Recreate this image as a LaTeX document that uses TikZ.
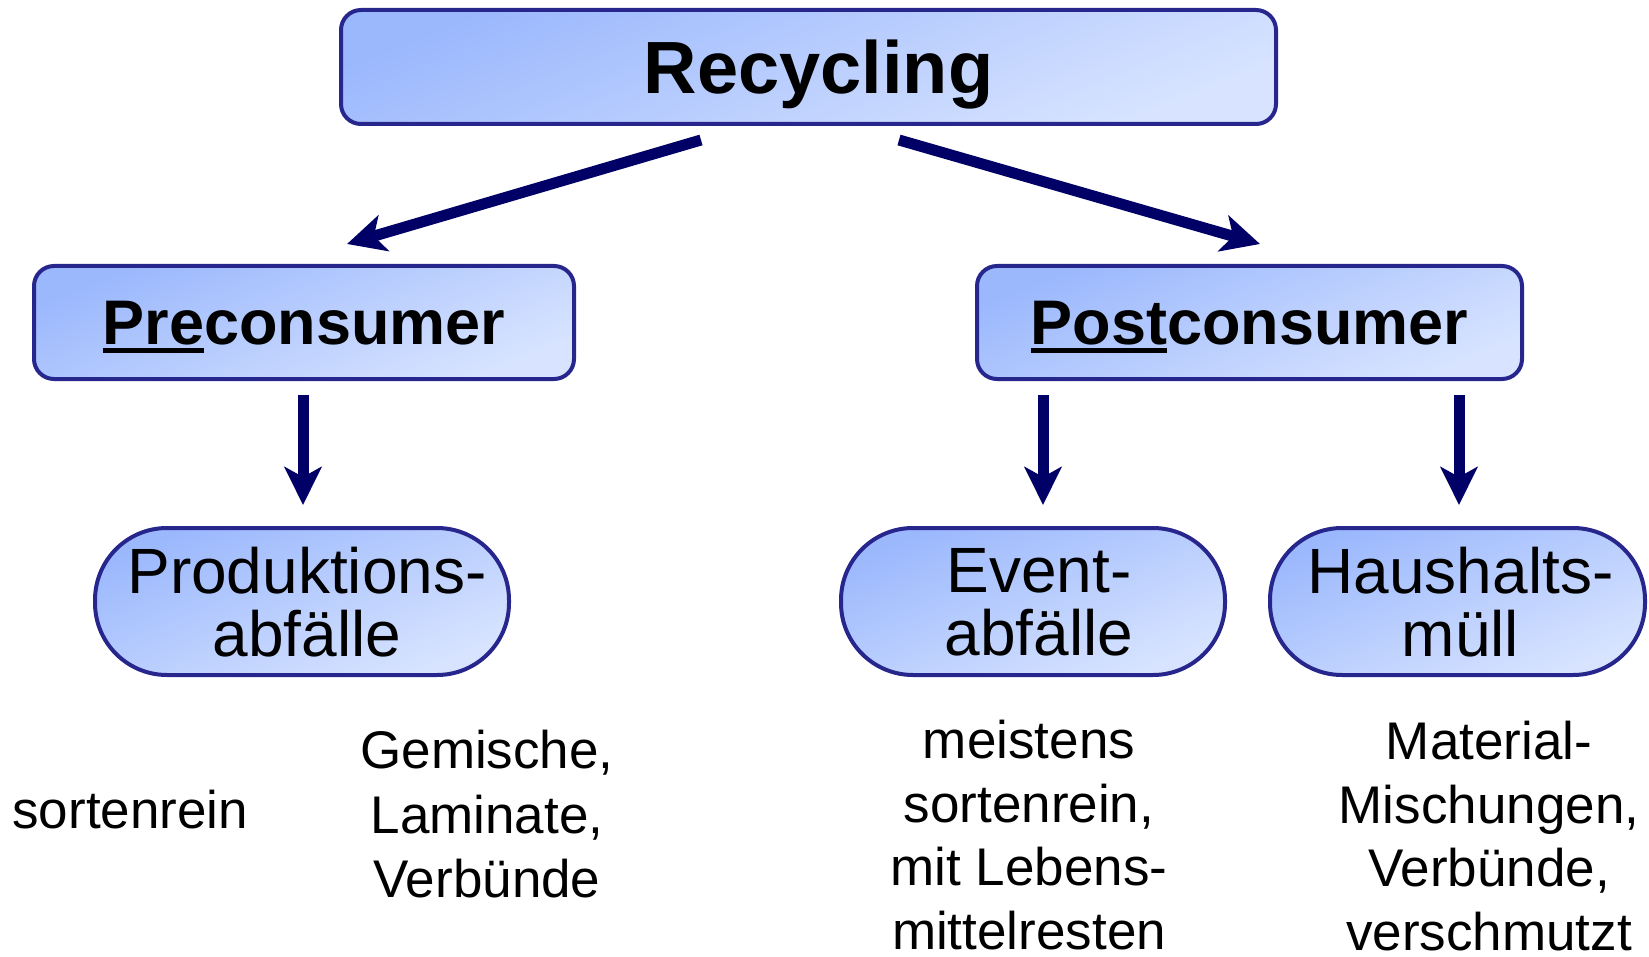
\documentclass[tikz,border=0pt]{standalone}
\usepackage{fontspec}
\setmainfont{Liberation Sans}
\usetikzlibrary{arrows.meta,calc}
\definecolor{bord}{RGB}{38,38,140}
\definecolor{fillA}{RGB}{155,184,253}
\definecolor{fillB}{RGB}{216,228,255}
\definecolor{arrcol}{RGB}{0,0,102}
\newcommand{\ulpart}[1]{\setbox0\hbox{#1}\rlap{\rule[-0.14em]{\wd0}{0.08em}}\box0}
\tikzset{
  gradfill/.style={draw=bord, line width=2pt, top color=fillA, bottom color=fillB, shading angle=22},
  catbox/.style={gradfill, rounded corners=10pt, inner sep=0pt, text depth=0pt, font=\bfseries},
  oval/.style={gradfill, rounded corners=36pt, inner sep=0pt, minimum height=73.5pt, align=center,
               text depth=0pt, font=\fontsize{32}{31.5}\selectfont},
  note/.style={inner sep=0pt, align=center, text depth=0pt, font=\fontsize{26.5}{31.75}\selectfont},
  arr/.style={draw=arrcol, line width=5.5pt, -{Stealth[length=19pt,width=18.5pt,inset=5pt]}}
}
\begin{document}
\begin{tikzpicture}[x=0.5pt,y=-0.5pt]
\useasboundingbox (0,0) rectangle (1649,957);

\node[catbox, minimum width=467.5pt, minimum height=57pt, font=\bfseries\fontsize{37}{40}\selectfont]
  (rec) at (808.5,67) {\hspace*{10pt}Recycling};
\node[catbox, minimum width=270pt, minimum height=56.5pt, font=\bfseries\fontsize{31.5}{34}\selectfont]
  (pre) at (304,322.5) {\ulpart{Pre}consumer};
\node[catbox, minimum width=272.5pt, minimum height=56.5pt, font=\bfseries\fontsize{31.5}{34}\selectfont]
  (post) at (1249.5,322.5) {\ulpart{Post}consumer};

\node[oval, minimum width=207pt] (prod) at (302,601.5) {\hspace*{5pt}Produktions-\\\hspace*{5pt}abfälle};
\node[oval, minimum width=192pt] (ev) at (1033,601.5) {\hspace*{6pt}Event-\\\hspace*{6pt}abfälle};
\node[oval, minimum width=187.5pt] (hh) at (1457.5,601.5) {\hspace*{3pt}Haushalts-\\\hspace*{3pt}müll};

\node[note, anchor=west] (sr) at (12,809) {sortenrein};
\node[note, font=\fontsize{26.5}{32.3}\selectfont] (gem) at (487,814) {Gemische,\\Laminate,\\Verbünde};
\node[note] (mei) at (1029,835) {meistens\\sortenrein,\\mit Lebens-\\mittelresten};
\node[note] (mat) at (1489,836) {Material-\\Mischungen,\\Verbünde,\\verschmutzt};

\draw[arr] ($(rec.south)+(-107.5,14)$) -- ($(pre.north)+(43,-20)$);
\draw[arr] ($(rec.south)+(90.5,14)$) -- ($(post.north)+(10.5,-20)$);
\draw[arr] ($(pre.south)+(-1,14)$) -- ($(prod.north)+(1,-21)$);
\draw[arr] ($(ev.north |- post.south)+(10,14)$) -- ($(ev.north)+(10,-21)$);
\draw[arr] ($(hh.north |- post.south)+(1.5,14)$) -- ($(hh.north)+(1.5,-21)$);
\end{tikzpicture}
\end{document}
